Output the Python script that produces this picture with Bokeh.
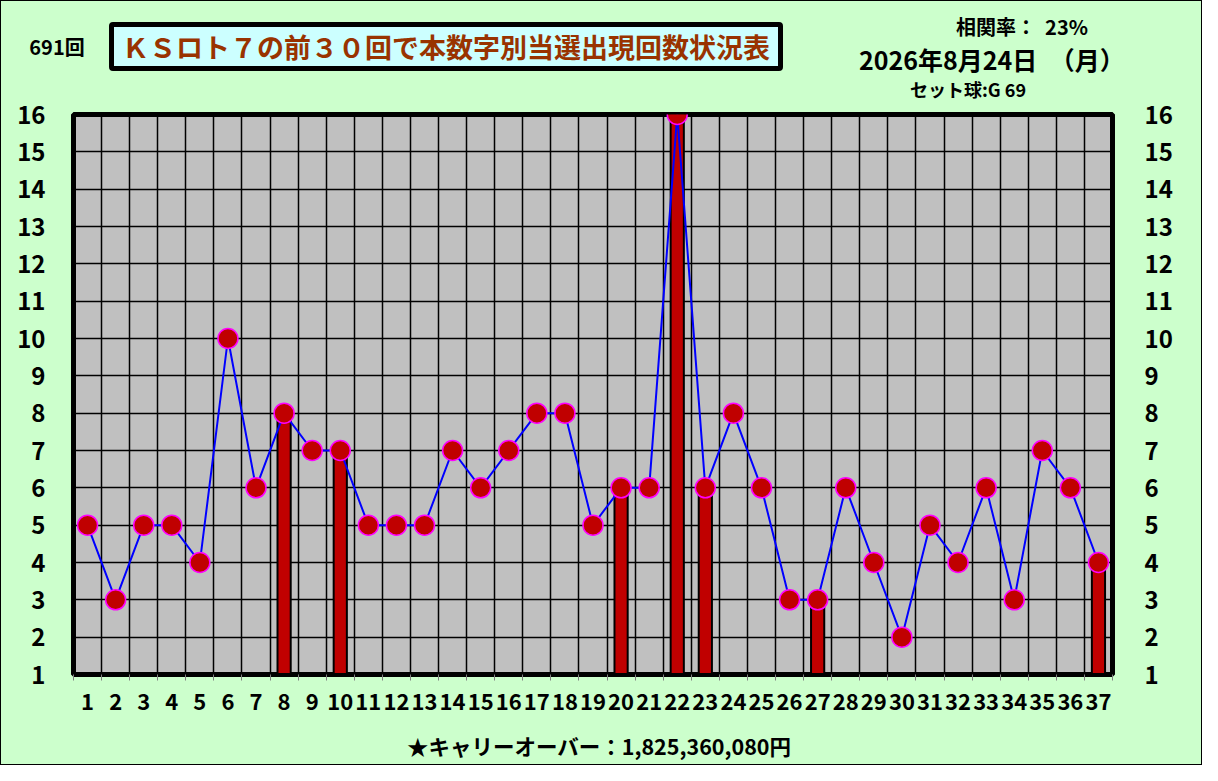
from bokeh.plotting import figure
from bokeh.models import FixedTicker, LinearAxis, Range1d, ColumnDataSource, Div
from bokeh.layouts import column
from bokeh.embed import file_html
from bokeh.resources import INLINE

# ---- data ----
numbers = list(range(1, 38))
counts = [5, 3, 5, 5, 4, 10, 6, 8, 7, 7, 5, 5, 5, 7, 6, 7, 8, 8, 5, 6,
          6, 16, 6, 8, 6, 3, 3, 6, 4, 2, 5, 4, 6, 3, 7, 6, 4]
drawn = [8, 10, 20, 22, 23, 27, 37]
y_ticks = list(range(1, 17))

round_label = "691回"
title_text = "ＫＳロト７の前３０回で本数字別当選出現回数状況表"
corr_text = "相関率：  23%"
date_text = "2026年8月24日　（月）"
set_text = "セット球:G 69"
carry_text = "★キャリーオーバー：1,825,360,080円"

drawn_counts = [counts[n - 1] for n in drawn]

W = 1200
TOP_H = 97           # header strip
MAIN_H = 628         # chart strip
BOT_H = 38           # footer strip
FL, FR = 72, 1111    # frame left/right
FT, FB = 16, 576     # frame top/bottom inside main strip
JP = "Noto Sans CJK JP"
BG = "#CCFFCC"


def span(txt, cx, cy, size, color="black", weight="bold"):
    return (f'<span style="position:absolute;left:{cx}px;top:{cy}px;'
            f'transform:translate(-50%,-50%);white-space:pre;'
            f'font-family:\'{JP}\';font-size:{size}px;font-weight:{weight};'
            f'color:{color};line-height:1;">{txt}</span>')


header_html = (
    f'<div style="position:relative;width:{W}px;height:{TOP_H}px;background:{BG};">'
    + span(round_label, 56, 46, 20)
    + f'<div style="position:absolute;left:108px;top:21px;width:674px;height:49px;'
      f'box-sizing:border-box;border:5px solid black;border-radius:4px;'
      f'background:#CCFFFF;display:flex;align-items:center;justify-content:center;">'
      f'<span style="font-family:\'{JP}\';font-size:27px;font-weight:bold;color:#993300;'
      f'white-space:pre;line-height:1;">{title_text}</span></div>'
    + span(corr_text, 1021, 26, 20)
    + span(date_text, 991, 58, 25)
    + span(set_text, 967, 88, 18)
    + '</div>'
)
footer_html = (
    f'<div style="position:relative;width:{W}px;height:{BOT_H}px;background:{BG};">'
    + span(carry_text, 598, 20, 21.5)
    + '</div>'
)

top = Div(text=header_html, width=W, height=TOP_H, margin=0)
bot = Div(text=footer_html, width=W, height=BOT_H, margin=0)

# ---- main chart ----
p = figure(width=W, height=MAIN_H, output_backend="svg", toolbar_location=None,
           x_range=Range1d(0.5, 37.5), y_range=Range1d(1, 16),
           min_border_left=FL, min_border_right=W - FR,
           min_border_top=FT, min_border_bottom=MAIN_H - FB, margin=0)
p.background_fill_color = "#C0C0C0"
p.border_fill_color = BG
p.outline_line_color = "black"
p.outline_line_width = 5

p.xgrid.ticker = FixedTicker(ticks=[n + 0.5 for n in numbers[:-1]])
p.ygrid.ticker = FixedTicker(ticks=y_ticks[1:-1])
for g in (p.xgrid, p.ygrid):
    g.grid_line_color = "black"
    g.grid_line_width = 1.5
    g.grid_line_alpha = 1.0

xa = p.xaxis[0]
xa.ticker = FixedTicker(ticks=numbers, minor_ticks=[n - 0.5 for n in numbers] + [37.5])
xa.major_tick_line_color = None
xa.minor_tick_line_color = "#808080"
xa.minor_tick_in = 0
xa.minor_tick_out = 6
xa.axis_line_color = "black"
xa.axis_line_width = 3
xa.major_label_standoff = 12
xa.major_label_text_font = JP
xa.major_label_text_font_size = "22px"
xa.major_label_text_font_style = "bold"
xa.major_label_text_color = "black"

ya = p.yaxis[0]
ya2 = LinearAxis()
p.add_layout(ya2, "right")
for a, so in ((ya, 22), (ya2, 26)):
    a.ticker = FixedTicker(ticks=y_ticks)
    a.axis_line_color = None
    a.major_tick_line_color = None
    a.minor_tick_line_color = None
    a.major_label_standoff = so
    a.major_label_text_font = JP
    a.major_label_text_font_size = "24px"
    a.major_label_text_font_style = "bold"
    a.major_label_text_color = "black"

bsrc = ColumnDataSource(dict(x=drawn, top=drawn_counts))
p.vbar(x="x", top="top", bottom=1, width=0.47, source=bsrc,
       fill_color="#C00000", line_color="black", line_width=2)

src = ColumnDataSource(dict(x=numbers, y=counts))
p.line("x", "y", source=src, line_color="#0000FF", line_width=2)
p.scatter("x", "y", source=src, size=20, fill_color="#C00000",
          line_color="#FF00FF", line_width=1.5)

layout = column(top, p, bot, spacing=0)
layout.styles = {"border": "1px solid black", "background-color": BG}

open("out.html", "w").write(file_html(layout, INLINE))
